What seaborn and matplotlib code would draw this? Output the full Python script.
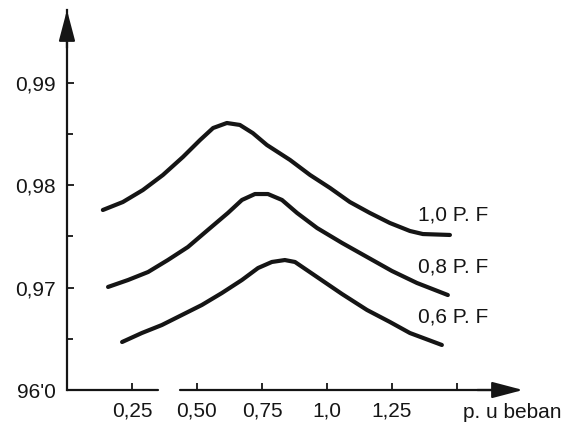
import seaborn as sns
import pandas as pd
import matplotlib
matplotlib.use("Agg")
import matplotlib.pyplot as plt

# efficiency vs per-unit load
load_10 = [0.138, 0.215, 0.292, 0.369, 0.446, 0.512, 0.562, 0.615, 0.665, 0.715, 0.769, 0.858,
           0.935, 1.012, 1.088, 1.165, 1.242, 1.319, 1.369, 1.473]
eff_10 = [0.97759, 0.97837, 0.97954, 0.98101, 0.98277, 0.98443, 0.98560, 0.98609, 0.98590, 0.98510,
          0.98394, 0.98248, 0.98101, 0.97974, 0.97837, 0.97730, 0.97632, 0.97554, 0.97524, 0.97515]

load_08 = [0.158, 0.235, 0.312, 0.388, 0.465, 0.542, 0.619, 0.673, 0.723, 0.773, 0.827, 0.885,
           0.962, 1.058, 1.154, 1.250, 1.346, 1.465]
eff_08 = [0.97007, 0.97075, 0.97153, 0.97270, 0.97397, 0.97564, 0.97730, 0.97857, 0.97915, 0.97915,
          0.97857, 0.97730, 0.97583, 0.97437, 0.97300, 0.97163, 0.97046, 0.96928]

load_06 = [0.212, 0.288, 0.365, 0.442, 0.519, 0.596, 0.673, 0.735, 0.788, 0.838, 0.877, 0.962,
           1.058, 1.154, 1.242, 1.319, 1.442]
eff_06 = [0.96469, 0.96557, 0.96635, 0.96733, 0.96831, 0.96948, 0.97075, 0.97192, 0.97251, 0.97270,
          0.97251, 0.97104, 0.96938, 0.96782, 0.96665, 0.96557, 0.96440]

pf_labels = ["1,0 P. F", "0,8 P. F", "0,6 P. F"]
label_y = [0.9771, 0.9720, 0.9671]

xticks = [0.25, 0.50, 0.75, 1.0, 1.25, 1.5]
xtick_labels = ["0,25", "0,50", "0,75", "1,0", "1,25", ""]
yticks = [0.96, 0.97, 0.98, 0.99]
ytick_labels = ["96'0", "0,97", "0,98", "0,99"]
y_minor = [0.965, 0.975, 0.985]

df = pd.concat([
  pd.DataFrame({"load": load_10, "eff": eff_10, "pf": pf_labels[0]}),
  pd.DataFrame({"load": load_08, "eff": eff_08, "pf": pf_labels[1]}),
  pd.DataFrame({"load": load_06, "eff": eff_06, "pf": pf_labels[2]}),
])

sns.set_style("white")
plt.rcParams["font.family"] = ["Liberation Sans", "DejaVu Sans"]
ink = "#151515"

fig = plt.figure(figsize=(5.71, 4.30), dpi=100)
ax = fig.add_axes([0.1173, 0.093, 0.7986, 0.8837])

sns.lineplot(data=df, x="load", y="eff", hue="pf", palette=[ink] * 3,
             linewidth=3.0, legend=False, ax=ax, sort=False,
             solid_joinstyle="round", solid_capstyle="round")

ax.set_xlim(0, 1.754)
ax.set_ylim(0.96, 0.99713)

for lab, yy in zip(pf_labels, label_y):
  ax.text(1.35, yy, lab, fontsize=15, color=ink, va="center", ha="left")

ax.set_xticks(xticks)
ax.set_xticklabels(xtick_labels)
ax.set_yticks(yticks)
ax.set_yticklabels(ytick_labels)
ax.set_yticks(y_minor, minor=True)
ax.tick_params(axis="both", which="both", direction="in", length=5, width=1.3,
               colors=ink, labelsize=15, pad=8, bottom=True, left=True)
ax.tick_params(axis="y", which="minor", length=4)
ax.set_xlabel("")
ax.set_ylabel("")

for s in ["top", "right", "bottom"]:
  ax.spines[s].set_visible(False)
ax.spines["left"].set_linewidth(1.6)
ax.spines["left"].set_color(ink)

# x axis line with the small break seen in the scan
ax.axhline(0.96, xmin=0, xmax=0.2, color=ink, lw=1.6, clip_on=False)
ax.axhline(0.96, xmin=0.248, xmax=0.96, color=ink, lw=1.6, clip_on=False)

arrow = dict(arrowstyle="-|>,head_length=1.9,head_width=0.5", color=ink, lw=1.6,
             mutation_scale=10, shrinkA=0, shrinkB=0)
ax.annotate("", xy=(0, 1.0), xytext=(0, 0.9), xycoords="axes fraction",
            arrowprops=arrow, annotation_clip=False)
ax.annotate("", xy=(1.0, 0), xytext=(0.9, 0), xycoords="axes fraction",
            arrowprops=arrow, annotation_clip=False)

fig.text(463 / 571, 1 - 413 / 430, "p. u beban", fontsize=15, color=ink,
         ha="left", va="center")

fig.savefig("out.png", dpi=100)
